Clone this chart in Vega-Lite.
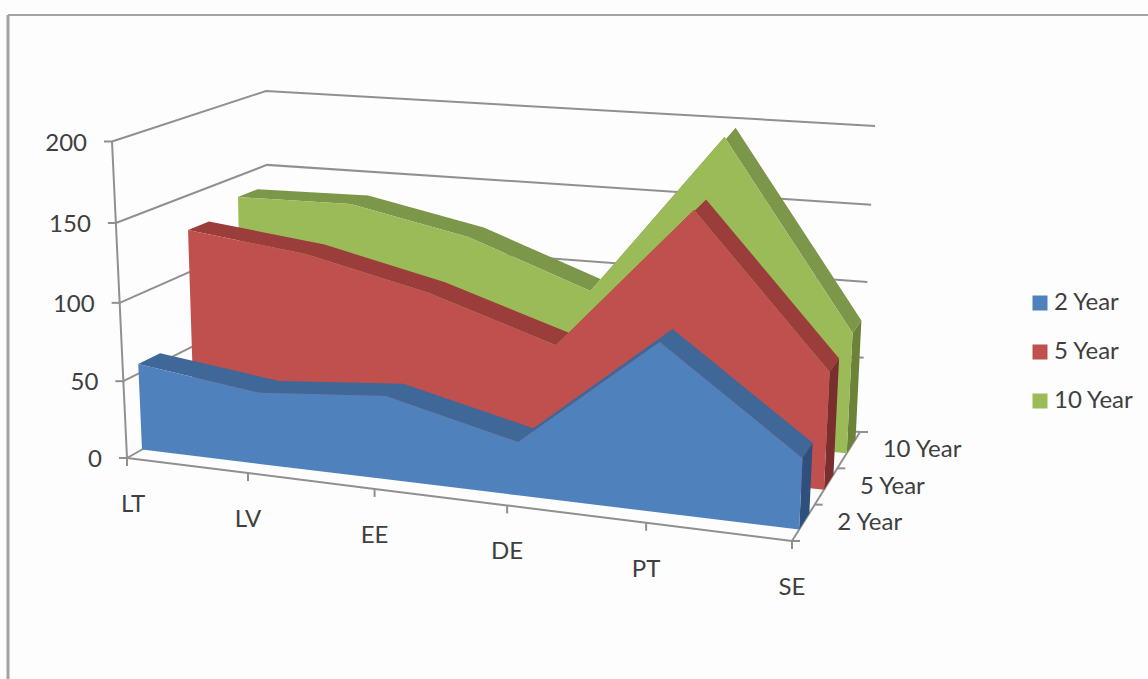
{
"$schema":"https://vega.github.io/schema/vega-lite/v6.json",
"width":1148,"height":679,"autosize":{"type":"none"},"padding":0,"background":"#fdfdfd",
"config":{"view":{"stroke":null},"font":"Lato","text":{"font":"Lato","fontSize":24,"fill":"#3f3f3f"}},
"datasets":{
"rows":[
{"series":"2 Year","cat":"LT","value":56.2},{"series":"2 Year","cat":"LV","value":46.3},{"series":"2 Year","cat":"EE","value":53.3},{"series":"2 Year","cat":"DE","value":33.8},{"series":"2 Year","cat":"PT","value":104.8},{"series":"2 Year","cat":"SE","value":43.9},
{"series":"5 Year","cat":"LT","value":127.6},{"series":"5 Year","cat":"LV","value":118.7},{"series":"5 Year","cat":"EE","value":100.8},{"series":"5 Year","cat":"DE","value":74.9},{"series":"5 Year","cat":"PT","value":167},{"series":"5 Year","cat":"SE","value":74.6},
{"series":"10 Year","cat":"LT","value":136},{"series":"10 Year","cat":"LV","value":137},{"series":"10 Year","cat":"EE","value":121.1},{"series":"10 Year","cat":"DE","value":91.8},{"series":"10 Year","cat":"PT","value":196.9},{"series":"10 Year","cat":"SE","value":78.9}
],
"valueTicks":[{"value":0},{"value":50},{"value":100},{"value":150},{"value":200}],
"cats":[{"cat":"LT"},{"cat":"LV"},{"cat":"EE"},{"cat":"DE"},{"cat":"PT"},{"cat":"SE"}],
"depths":[{"slot":0},{"slot":1},{"slot":2},{"slot":3}],
"depthLabels":[{"series":"2 Year","slot":0.5},{"series":"5 Year","slot":1.5},{"series":"10 Year","slot":2.5}],
"frameTop":[{"x":8,"x2":1148,"y":15}],
"frameLeft":[{"x":8,"y":15,"y2":679}]
},
"encoding":{
"x":{"field":"x","type":"quantitative","axis":null,"scale":{"domain":[0,1148],"range":[0,1148],"nice":false,"zero":false}},
"y":{"field":"y","type":"quantitative","axis":null,"stack":null,"scale":{"domain":[679,0],"range":[679,0],"nice":false,"zero":false}}
},
"layer":[
{"data":{"name":"frameTop"},"mark":{"type":"rule","stroke":"#a3a3a3","strokeWidth":2},"encoding":{"x2":{"field":"x2"}}},
{"data":{"name":"frameLeft"},"mark":{"type":"rule","stroke":"#a3a3a3","strokeWidth":3},"encoding":{"y2":{"field":"y2"}}},
{"data":{"name":"valueTicks"},
 "transform":[
  {"calculate":"[0,1,2]","as":"v"},{"flatten":["v"]},
  {"calculate":"datum.v==2?1:0","as":"u"},{"calculate":"datum.v==0?0:1","as":"f"},{"calculate":"(datum.value/200)/(1+0.04*(1-datum.value/200))","as":"s"},
  {"calculate":"(1-datum.s)*((1-datum.f)*(127+665*datum.u)+datum.f*(270+590*datum.u))+datum.s*((1-datum.f)*(112+696*datum.u)+datum.f*(266+609*datum.u))","as":"x"},
  {"calculate":"(1-datum.s)*((1-datum.f)*(458+83*datum.u)+datum.f*(378+54*datum.u))+datum.s*((1-datum.f)*(141.5+60.5*datum.u)+datum.f*(91+35*datum.u))","as":"y"}
 ],
 "mark":{"type":"line","stroke":"#909090","strokeWidth":2},
 "encoding":{"detail":{"field":"value"},"order":{"field":"v"}}},
{"data":{"name":"valueTicks"},
 "transform":[
  {"calculate":"(datum.value/200)/(1+0.04*(1-datum.value/200))","as":"s"},
  {"calculate":"(1-datum.s)*127+datum.s*112","as":"x"},
  {"calculate":"(1-datum.s)*458+datum.s*141.5","as":"y"},
  {"calculate":"datum.x-8","as":"xt"}
 ],
 "layer":[
  {"mark":{"type":"line","stroke":"#909090","strokeWidth":2},"encoding":{"order":{"field":"value"}}},
  {"mark":{"type":"rule","stroke":"#909090","strokeWidth":2},"encoding":{"x2":{"field":"xt"}}},
  {"mark":{"type":"text","align":"right","baseline":"middle","dx":-25,"dy":2},"encoding":{"text":{"field":"value","type":"quantitative"}}}
 ]},
{"data":{"name":"cats"},
 "transform":[
  {"calculate":"indexof(['LT','LV','EE','DE','PT','SE'],datum.cat)/5","as":"c"},
  {"calculate":"datum.c/(1+0.124*(1-datum.c))","as":"u"},
  {"calculate":"127+665*datum.u","as":"x"},
  {"calculate":"458+83*datum.u","as":"y"},
  {"calculate":"datum.y+8","as":"yt"},
  {"calculate":"datum.cat==='LT'?datum.x+6:datum.x","as":"xl"}
 ],
 "layer":[
  {"mark":{"type":"line","stroke":"#909090","strokeWidth":2},"encoding":{"order":{"field":"c"}}},
  {"mark":{"type":"rule","stroke":"#909090","strokeWidth":2},"encoding":{"y2":{"field":"yt"}}},
  {"mark":{"type":"text","align":"center","baseline":"middle","dy":47},"encoding":{"x":{"field":"xl","type":"quantitative"},"text":{"field":"cat"}}}
 ]},
{"data":{"name":"depths"},
 "transform":[
  {"calculate":"datum.slot/3","as":"f"},
  {"calculate":"792+68*datum.f","as":"x"},
  {"calculate":"541-109*datum.f","as":"y"},
  {"calculate":"datum.x+8","as":"xt"}
 ],
 "layer":[
  {"mark":{"type":"line","stroke":"#909090","strokeWidth":2},"encoding":{"order":{"field":"slot"}}},
  {"mark":{"type":"rule","stroke":"#909090","strokeWidth":2},"encoding":{"x2":{"field":"xt"}}}
 ]},
{"data":{"name":"depthLabels"},
 "transform":[
  {"calculate":"datum.slot/3","as":"f"},
  {"calculate":"792+68*datum.f","as":"x"},
  {"calculate":"541-109*datum.f","as":"y"}
 ],
 "mark":{"type":"text","align":"left","baseline":"middle","dx":34,"dy":0},
 "encoding":{"text":{"field":"series"}}},
{"data":{"name":"rows"},
 "transform":[
  {"calculate":"[0,1]","as":"b"},{"flatten":["b"]},
  {"calculate":"[0,1]","as":"g"},{"flatten":["g"]},
  {"calculate":"indexof(['LT','LV','EE','DE','PT','SE'],datum.cat)/5","as":"c"},
  {"calculate":"datum.c/(1+0.124*(1-datum.c))","as":"u"},
  {"calculate":"datum.series==='2 Year'?0.105+0.15*datum.b:datum.series==='5 Year'?0.47+0.14*datum.b:0.805+0.13*datum.b","as":"f"},
  {"calculate":"datum.g*(datum.value/200)/(1+0.04*(1-datum.value/200))","as":"s"},
  {"calculate":"(1-datum.s)*((1-datum.f)*(127+665*datum.u)+datum.f*(270+590*datum.u))+datum.s*((1-datum.f)*(112+696*datum.u)+datum.f*(266+609*datum.u))","as":"x"},
  {"calculate":"(1-datum.s)*((1-datum.f)*(458+83*datum.u)+datum.f*(378+54*datum.u))+datum.s*((1-datum.f)*(141.5+60.5*datum.u)+datum.f*(91+35*datum.u))","as":"y"},
  {"calculate":"datum.b==0?datum.c:3-datum.c","as":"bandOrder"},
  {"calculate":"datum.g==1?datum.c:3-datum.c","as":"faceOrder"},
  {"calculate":"datum.g==1?datum.b:3-datum.b","as":"sideOrder"}
 ],
 "layer":[
  {"transform":[{"filter":"datum.series==='10 Year'&&datum.g==1"}],"mark":{"type":"line","fill":"#7c964a","stroke":null},"encoding":{"order":{"field":"bandOrder"}}},
  {"transform":[{"filter":"datum.series==='10 Year'&&datum.cat==='SE'"}],"mark":{"type":"line","fill":"#6b8238","stroke":null},"encoding":{"order":{"field":"sideOrder"}}},
  {"transform":[{"filter":"datum.series==='10 Year'&&datum.b==0"}],"mark":{"type":"line","stroke":null},"encoding":{"order":{"field":"faceOrder"},"fill":{"field":"series","type":"nominal","scale":{"domain":["2 Year","5 Year","10 Year"],"range":["#4f81bd","#c0504d","#9bbb59"]},"legend":{"orient":"none","legendX":1028,"legendY":291,"title":null,"symbolType":"square","symbolSize":225,"symbolStrokeWidth":0,"labelFont":"Lato","labelFontSize":24,"labelColor":"#3f3f3f","rowPadding":25,"labelOffset":2}}}},
  {"transform":[{"filter":"datum.series==='5 Year'&&datum.g==1"}],"mark":{"type":"line","fill":"#9a3d3b","stroke":null},"encoding":{"order":{"field":"bandOrder"}}},
  {"transform":[{"filter":"datum.series==='5 Year'&&datum.cat==='SE'"}],"mark":{"type":"line","fill":"#7a2f2e","stroke":null},"encoding":{"order":{"field":"sideOrder"}}},
  {"transform":[{"filter":"datum.series==='5 Year'&&datum.b==0"}],"mark":{"type":"line","stroke":null},"encoding":{"order":{"field":"faceOrder"},"fill":{"field":"series","type":"nominal"}}},
  {"transform":[{"filter":"datum.series==='2 Year'&&datum.g==1"}],"mark":{"type":"line","fill":"#3f6797","stroke":null},"encoding":{"order":{"field":"bandOrder"}}},
  {"transform":[{"filter":"datum.series==='2 Year'&&datum.cat==='SE'"}],"mark":{"type":"line","fill":"#2f4f7c","stroke":null},"encoding":{"order":{"field":"sideOrder"}}},
  {"transform":[{"filter":"datum.series==='2 Year'&&datum.b==0"}],"mark":{"type":"line","stroke":null},"encoding":{"order":{"field":"faceOrder"},"fill":{"field":"series","type":"nominal"}}}
 ]}
]
}
